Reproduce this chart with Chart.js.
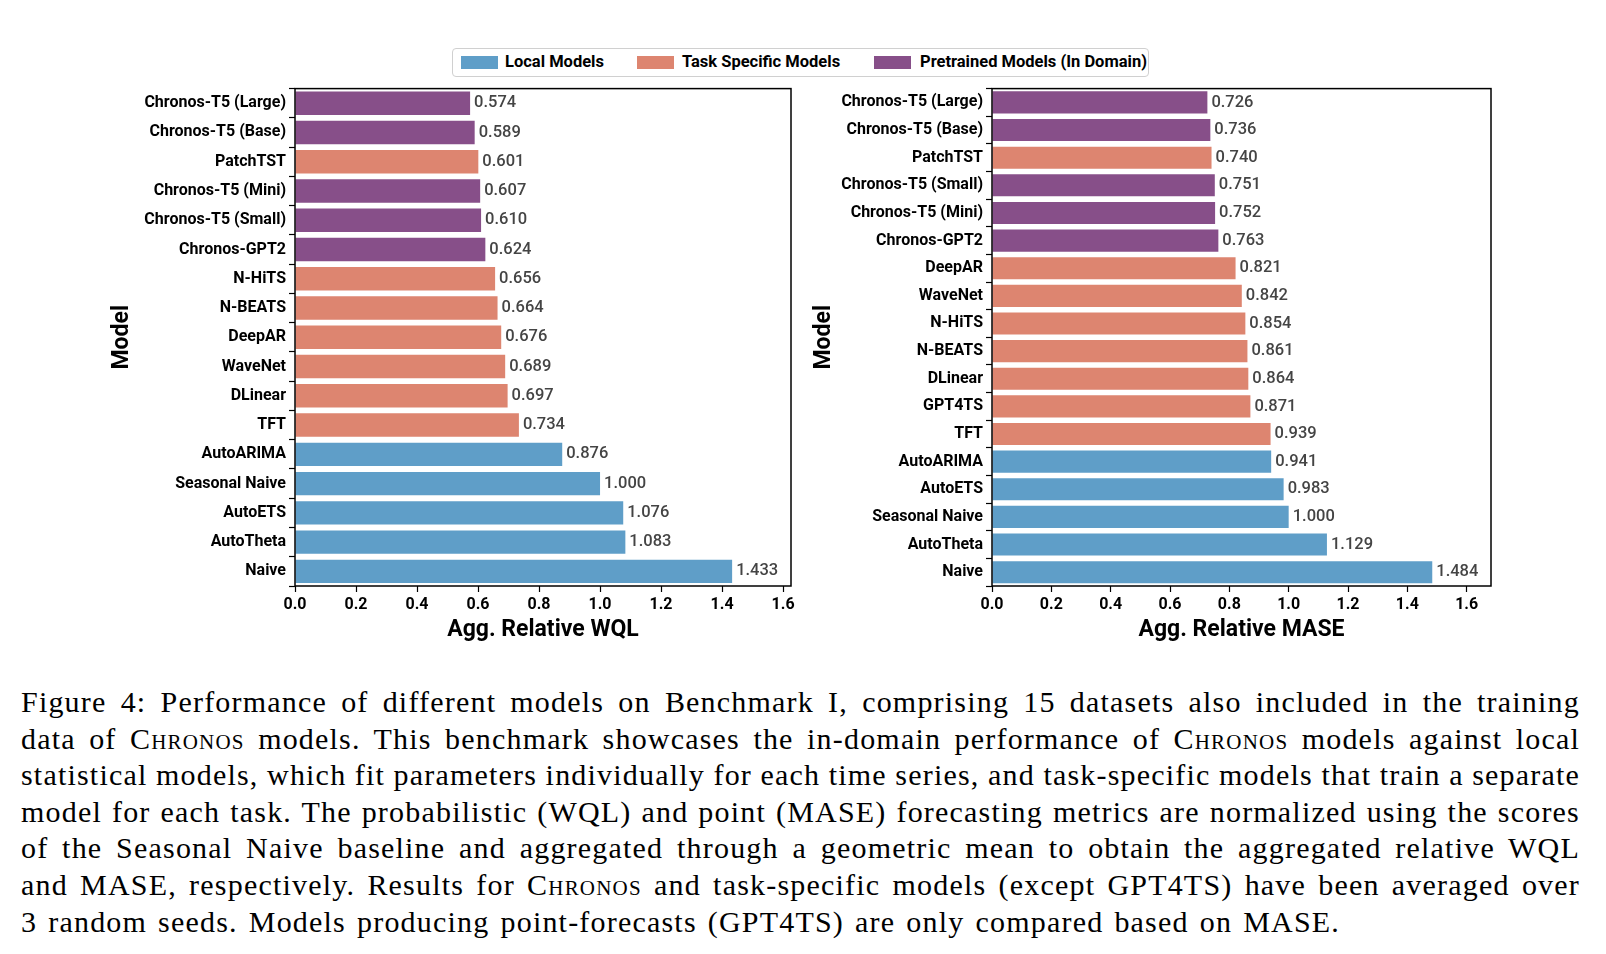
<!DOCTYPE html>
<html>
<head>
<meta charset="utf-8">
<script src="https://cdn.jsdelivr.net/npm/chart.js@4"></script>
<style>
  body { margin: 0; background: #fff; }
  #page { position: relative; width: 1606px; height: 954px; overflow: hidden; }
  canvas { position: absolute; }
  #legend {
    position: absolute; left: 452px; top: 48px; width: 695px; height: 27px;
    border: 1px solid #d0d0d0; border-radius: 4px;
    font-family: Roboto, sans-serif; font-weight: bold; font-size: 16.5px; color: #000;
  }
  #legend .patch { position: absolute; top: 7px; width: 37px; height: 13px; }
  #legend .lbl { position: absolute; top: 3px; }
  #caption {
    position: absolute; left: 21px; top: 684px; width: 1559px;
    font-family: "Liberation Serif", serif; font-size: 30px; letter-spacing: 1.2px;
    line-height: 36.6px; color: #000;
  }
  #caption div { white-space: nowrap; }
  .sc { font-variant: small-caps; }
</style>
</head>
<body>
<div id="page">
  <div id="legend">
    <span class="patch" style="left:8px;background:#5f9ec8"></span>
    <span class="lbl" style="left:52px">Local Models</span>
    <span class="patch" style="left:184px;background:#dd8570"></span>
    <span class="lbl" style="left:229px">Task Specific Models</span>
    <span class="patch" style="left:421px;background:#874f89"></span>
    <span class="lbl" style="left:467px">Pretrained Models (In Domain)</span>
  </div>
  <canvas id="wqlChart" width="702" height="568" style="left:106px;top:76px"></canvas>
  <canvas id="maseChart" width="722" height="568" style="left:808px;top:76px"></canvas>
  <div id="caption">
    <div data-w="1559">Figure 4: Performance of different models on Benchmark I, comprising 15 datasets also included in the training</div>
    <div data-w="1559">data of <span class="sc">Chronos</span> models. This benchmark showcases the in-domain performance of <span class="sc">Chronos</span> models against local</div>
    <div data-w="1559">statistical models, which fit parameters individually for each time series, and task-specific models that train a separate</div>
    <div data-w="1559">model for each task. The probabilistic (WQL) and point (MASE) forecasting metrics are normalized using the scores</div>
    <div data-w="1559">of the Seasonal Naive baseline and aggregated through a geometric mean to obtain the aggregated relative WQL</div>
    <div data-w="1559">and MASE, respectively. Results for <span class="sc">Chronos</span> and task-specific models (except GPT4TS) have been averaged over</div>
    <div data-w="1319">3 random seeds. Models producing point-forecasts (GPT4TS) are only compared based on MASE.</div>
  </div>
</div>
<script>
// colours per model group
const groupColors = { L: '#5f9ec8', T: '#dd8570', P: '#874f89' };

// WQL panel
const wqlModels = ['Chronos-T5 (Large)', 'Chronos-T5 (Base)', 'PatchTST', 'Chronos-T5 (Mini)', 'Chronos-T5 (Small)',
  'Chronos-GPT2', 'N-HiTS', 'N-BEATS', 'DeepAR', 'WaveNet', 'DLinear', 'TFT',
  'AutoARIMA', 'Seasonal Naive', 'AutoETS', 'AutoTheta', 'Naive'];
const wqlValues = [0.574, 0.589, 0.601, 0.607, 0.610, 0.624, 0.656, 0.664, 0.676, 0.689, 0.697, 0.734,
  0.876, 1.000, 1.076, 1.083, 1.433];
const wqlGroups = ['P', 'P', 'T', 'P', 'P', 'P', 'T', 'T', 'T', 'T', 'T', 'T', 'L', 'L', 'L', 'L', 'L'];

// MASE panel
const maseModels = ['Chronos-T5 (Large)', 'Chronos-T5 (Base)', 'PatchTST', 'Chronos-T5 (Small)', 'Chronos-T5 (Mini)',
  'Chronos-GPT2', 'DeepAR', 'WaveNet', 'N-HiTS', 'N-BEATS', 'DLinear', 'GPT4TS', 'TFT',
  'AutoARIMA', 'AutoETS', 'Seasonal Naive', 'AutoTheta', 'Naive'];
const maseValues = [0.726, 0.736, 0.740, 0.751, 0.752, 0.763, 0.821, 0.842, 0.854, 0.861, 0.864, 0.871, 0.939,
  0.941, 0.983, 1.000, 1.129, 1.484];
const maseGroups = ['P', 'P', 'T', 'P', 'P', 'P', 'T', 'T', 'T', 'T', 'T', 'T', 'T', 'L', 'L', 'L', 'L', 'L'];

const xTicks = [0, 0.2, 0.4, 0.6, 0.8, 1.0, 1.2, 1.4, 1.6];

// justify caption lines by hand (each line is kept on one row)
document.querySelectorAll('#caption div').forEach(line => {
  const target = +line.dataset.w;
  const spaces = (line.textContent.match(/ /g) || []).length;
  const span = document.createElement('span');
  span.innerHTML = line.innerHTML;
  line.innerHTML = '';
  line.appendChild(span);
  const natural = span.getBoundingClientRect().width;
  line.style.wordSpacing = ((target - natural) / spaces) + 'px';
});

// value text at the end of each bar
const valueLabels = {
  id: 'valueLabels',
  afterDatasetsDraw(chart) {
    const ctx = chart.ctx;
    const meta = chart.getDatasetMeta(0);
    const data = chart.data.datasets[0].data;
    ctx.save();
    ctx.font = '500 16.5px Roboto';
    ctx.fillStyle = '#444';
    ctx.textBaseline = 'middle';
    ctx.textAlign = 'left';
    meta.data.forEach((bar, i) => {
      ctx.fillText(data[i].toFixed(3), bar.x + 4, bar.y);
    });
    ctx.restore();
  }
};

// black frame round the plot area
const frame = {
  id: 'frame',
  afterDraw(chart) {
    const a = chart.chartArea;
    const ctx = chart.ctx;
    ctx.save();
    ctx.strokeStyle = '#000';
    ctx.lineWidth = 1.5;
    ctx.strokeRect(a.left, a.top, a.right - a.left, a.bottom - a.top);
    ctx.restore();
  }
};

function makeChart(id, models, values, groups, xMax, xTitle, yWidth, padRight) {
  return new Chart(document.getElementById(id), {
    type: 'bar',
    data: {
      labels: models,
      datasets: [{
        data: values,
        backgroundColor: groups.map(g => groupColors[g]),
        borderWidth: 0,
        categoryPercentage: 0.8,
        barPercentage: 1.0
      }]
    },
    options: {
      indexAxis: 'y',
      responsive: false,
      animation: false,
      devicePixelRatio: 1,
      layout: { padding: { top: 8, left: 0, right: padRight, bottom: 0 } },
      plugins: { legend: { display: false }, tooltip: { enabled: false } },
      scales: {
        x: {
          type: 'linear',
          min: 0,
          max: xMax,
          afterBuildTicks: s => { s.ticks = xTicks.map(v => ({ value: v })); },
          afterFit: s => { s.height = 58; },
          ticks: {
            callback: v => v.toFixed(1),
            color: '#000',
            font: { family: 'Roboto', size: 16, weight: 'bold' },
            padding: 3,
            maxRotation: 0
          },
          grid: { drawOnChartArea: false, drawTicks: true, tickLength: 6, tickColor: '#000', tickWidth: 1.2 },
          border: { display: false },
          title: {
            display: true,
            text: xTitle,
            color: '#000',
            font: { family: 'Roboto', size: 23, weight: 'bold' },
            padding: { top: 4, bottom: 0 }
          }
        },
        y: {
          afterFit: s => { s.width = yWidth; },
          ticks: {
            color: '#000',
            font: { family: 'Roboto', size: 16, weight: 'bold' },
            padding: 3
          },
          grid: { drawOnChartArea: false, drawTicks: true, tickLength: 6, tickColor: '#000', tickWidth: 1.2 },
          border: { display: false },
          title: {
            display: true,
            text: 'Model',
            color: '#000',
            font: { family: 'Roboto', size: 23, weight: 'bold' },
            padding: { top: 2, bottom: 0 }
          }
        }
      }
    },
    plugins: [valueLabels, frame]
  });
}

makeChart('wqlChart', wqlModels, wqlValues, wqlGroups, 1.626, 'Agg. Relative WQL', 189, 17);
makeChart('maseChart', maseModels, maseValues, maseGroups, 1.682, 'Agg. Relative MASE', 184, 39);
</script>
</body>
</html>
